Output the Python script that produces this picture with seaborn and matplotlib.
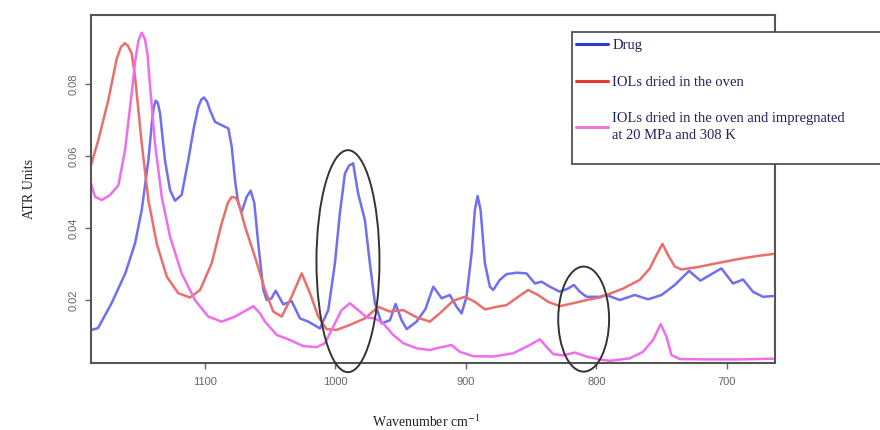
import pandas as pd
import seaborn as sns
import matplotlib.pyplot as plt
from matplotlib.patches import Ellipse, Rectangle

# ATR spectra (wavenumber cm-1, ATR units)
drug_wn = [1187, 1182, 1171.5, 1161, 1153.6, 1148.5, 1143.4, 1140.8, 1139.3, 1137.8, 1136.2, 1134.5,
           1130.7, 1126.8, 1123, 1117.9, 1112.8, 1108.5, 1105.1, 1102.8, 1100.8, 1098.5, 1096.2, 1092.3,
           1087.2, 1082.1, 1079.5, 1077, 1074.5, 1071.9, 1068, 1065, 1062.2, 1059.2, 1055.3, 1052.7,
           1049, 1045.8, 1040, 1033.6, 1027.2, 1020.8, 1011.9, 1005.5, 1000.4, 996.6,
           992.7, 989.5, 986.4, 982.6, 977.4, 973.6, 969.7, 964.6, 958.2, 953.9, 949.3,
           945.4, 937.8, 931, 925, 918.6, 912.3, 907.1, 903.3, 899.5, 895.6,
           893.1, 891, 888.7, 885.4, 881.6, 879, 874, 868.8, 861.1, 853.5,
           847.1, 842, 835.6, 828, 821.6, 817.2, 812.6, 807.5, 797.3, 792.2,
           782, 770.5, 760.3, 750, 739.8, 728.9, 720.2, 711.7, 704.1, 695.2,
           687.5, 679.9, 672.2, 664.6]
drug_atr = [0.0117, 0.0122, 0.0192, 0.0275, 0.0358, 0.045, 0.0589, 0.0690, 0.0735, 0.0754, 0.0748, 0.072,
            0.0589, 0.0506, 0.0476, 0.0492, 0.0589, 0.0680, 0.0737, 0.0757, 0.0763, 0.0752, 0.0728, 0.0695,
            0.0686, 0.0677, 0.0626, 0.0533, 0.0469, 0.0445, 0.0487, 0.0504, 0.047, 0.0358, 0.0228, 0.0200,
            0.0205, 0.0226, 0.0188, 0.0197, 0.0149, 0.0140, 0.0121, 0.0172, 0.0302, 0.0441,
            0.0552, 0.0574, 0.0580, 0.0496, 0.0422, 0.0302, 0.0191, 0.0135, 0.0144, 0.0189, 0.0144,
            0.0119, 0.0140, 0.0175, 0.0237, 0.0205, 0.0214, 0.0181, 0.0163, 0.0209, 0.0330,
            0.0450, 0.0489, 0.0450, 0.0302, 0.0237, 0.0228, 0.0256, 0.0272, 0.0276, 0.0274,
            0.0246, 0.0251, 0.0237, 0.0223, 0.0232, 0.0242, 0.0223, 0.0209, 0.0209, 0.0214,
            0.0200, 0.0214, 0.0202, 0.0214, 0.0242, 0.0281, 0.0254, 0.0272, 0.0288, 0.0246,
            0.0257, 0.0223, 0.0209, 0.0211]

oven_wn = [1187.4, 1181.8, 1174.1, 1167.7, 1164.5, 1161.5, 1159, 1156.2, 1153.6, 1148.5, 1143.4, 1137,
           1129.3, 1120.5, 1111.5, 1103.8, 1094.9, 1087.2, 1082.5, 1079.5, 1076.5, 1074.5, 1069.3, 1061.7,
           1054, 1047.7, 1041.2, 1033.6, 1025.9, 1019.5, 1013.2, 1006.8, 999.1, 988.9,
           977.4, 967.2, 958.2, 948, 937.8, 927.6, 920, 909.7, 900.8, 893.1,
           885.4, 876.5, 868.8, 859.9, 852.3, 844.6, 837, 828, 817.8, 807.5,
           797.3, 792.2, 779.4, 766.7, 759, 753.9, 749.3, 745, 739.8, 734.7,
           723.2, 707.9, 692.6, 677.3, 664.6]
oven_atr = [0.0575, 0.0644, 0.0756, 0.0870, 0.0903, 0.0914, 0.0906, 0.0885, 0.0820, 0.0635, 0.0478, 0.0357,
            0.0265, 0.0219, 0.0207, 0.0228, 0.0302, 0.0413, 0.0470, 0.0487, 0.0484, 0.0473, 0.0404, 0.0320,
            0.0228, 0.0168, 0.0154, 0.0209, 0.0274, 0.0219, 0.0154, 0.0119, 0.0117, 0.0131,
            0.0149, 0.0181, 0.0168, 0.0172, 0.0152, 0.0140, 0.0163, 0.0198, 0.0209, 0.0195,
            0.0174, 0.0181, 0.0186, 0.0209, 0.0228, 0.0214, 0.0195, 0.0183, 0.0191, 0.0200,
            0.0207, 0.0214, 0.0232, 0.0256, 0.0288, 0.0325, 0.0356, 0.0325, 0.0293, 0.0285,
            0.0291, 0.0302, 0.0313, 0.0322, 0.0328]

impreg_wn = [1187.4, 1184.3, 1179.2, 1172.8, 1166.4, 1161.3, 1156.2, 1153.6, 1151, 1148.5, 1146,
             1144, 1142.1, 1138.3, 1133.2, 1126.8, 1117.9, 1107.7, 1097.5, 1087.2, 1077, 1068,
             1063, 1057.9, 1054, 1045, 1034.9, 1024.7, 1014.4, 1008, 1001.7, 995.3,
             988.9, 982.6, 976.1, 969.7, 963.4, 955.7, 948, 937.8, 927.6, 922.4,
             911, 904.6, 894.4, 879, 863.8, 851, 843.3, 838.2, 833.1, 825.5,
             816.5, 807.5, 797.3, 789.7, 774.4, 764.2, 756.5, 750.6, 746.2, 742.4,
             736, 715.6, 690, 664.6]
impreg_atr = [0.0524, 0.0487, 0.0478, 0.0492, 0.0519, 0.0617, 0.0774, 0.0862, 0.0922, 0.0943, 0.0925,
              0.0880, 0.0793, 0.0635, 0.0487, 0.0376, 0.0274, 0.0200, 0.0154, 0.0140, 0.0154, 0.0172,
              0.0183, 0.0163, 0.0140, 0.0103, 0.0089, 0.0072, 0.0069, 0.0080, 0.0126, 0.0172,
              0.0191, 0.0172, 0.0152, 0.0149, 0.0135, 0.0103, 0.0080, 0.0066, 0.0061, 0.0066,
              0.0075, 0.0056, 0.0044, 0.0043, 0.0052, 0.0075, 0.0091, 0.0070, 0.0050, 0.0046,
              0.0054, 0.0043, 0.0035, 0.0031, 0.0038, 0.0056, 0.0089, 0.0133, 0.0098, 0.0047,
              0.0036, 0.0035, 0.0035, 0.0037]

labels = ["Drug", "IOLs dried in the oven",
          "IOLs dried in the oven and impregnated\nat 20 MPa and 308 K"]
x_ticks = [1100, 1000, 900, 800, 700]
y_ticks = [0.02, 0.04, 0.06, 0.08]

df = pd.concat([
    pd.DataFrame({"wn": drug_wn, "atr": drug_atr, "sample": labels[0]}),
    pd.DataFrame({"wn": oven_wn, "atr": oven_atr, "sample": labels[1]}),
    pd.DataFrame({"wn": impreg_wn, "atr": impreg_atr, "sample": labels[2]}),
])

line_colors = {labels[0]: "#6f6ff0", labels[1]: "#e96f6c", labels[2]: "#ee6eee"}
legend_colors = ["#2a3ad8", "#e8382e", "#f07ad8"]

sns.set_style("white")
plt.rcParams["font.family"] = ["Liberation Serif", "DejaVu Serif"]
plt.rcParams["mathtext.fontset"] = "stix"

fig, ax = plt.subplots(figsize=(8.8, 4.3), dpi=100)
fig.subplots_adjust(left=0.1034, right=0.8807, bottom=0.1558, top=0.965)

sns.lineplot(data=df, x="wn", y="atr", hue="sample", hue_order=labels,
             palette=line_colors, estimator=None, sort=False, lw=1.8, ax=ax)

ax.set_xlim(1187.4, 663)
ax.set_ylim(0.0025, 0.0992)
ax.set_xticks(x_ticks)
ax.set_xticklabels([str(t) for t in x_ticks])
ax.set_yticks(y_ticks)
ax.set_yticklabels(["%.2f" % t for t in y_ticks], rotation=90, va="center")
for lab in ax.get_xticklabels() + ax.get_yticklabels():
    lab.set_fontfamily("Liberation Sans")
ax.tick_params(axis="both", direction="out", length=4, width=1, colors="#666666",
               labelsize=8, left=True, bottom=True)
ax.tick_params(axis="x", pad=6)
ax.tick_params(axis="y", pad=5)
for sp in ax.spines.values():
    sp.set_color("#555555")
    sp.set_linewidth(1.5)

ax.set_xlabel("Wavenumber cm$^{-1}$", fontsize=10, color="#222222")
ax.set_ylabel("ATR Units", fontsize=10, color="#222222")
ax.xaxis.set_label_coords(0.49, -0.145)
ax.yaxis.set_label_coords(-0.08, 0.5)

# highlighted regions
for cx, cy, w, h in [(990.4, 0.0308, 48.3, 0.0617), (809.7, 0.0147, 39, 0.0292)]:
    ax.add_patch(Ellipse((cx, cy), w, h, fill=False, ec="#333333", lw=1.4,
                         clip_on=False, zorder=5))

# legend box sits partly outside the axes and hides the right spine
handles, _ = ax.get_legend_handles_labels()
ax.get_legend().remove()
fig.add_artist(Rectangle((572 / 880, 1 - 164 / 430), 320 / 880, 132 / 430,
                         transform=fig.transFigure, fc="white", ec="#444444",
                         lw=1.2, zorder=4))
leg = fig.legend(handles, labels, loc="upper left",
                 bbox_to_anchor=(576 / 880, 1 - 39 / 430), bbox_transform=fig.transFigure,
                 frameon=False, fontsize=10.5, labelspacing=1.6, handlelength=2.2,
                 handletextpad=0.3, borderpad=0, borderaxespad=0)
leg.set_zorder(6)
for ln, c in zip(leg.get_lines(), legend_colors):
    ln.set_color(c)
    ln.set_linewidth(2.2)
for t in leg.get_texts():
    t.set_color("#22225a")
    t.set_linespacing(1.35)

fig.savefig("out.png", dpi=100)
